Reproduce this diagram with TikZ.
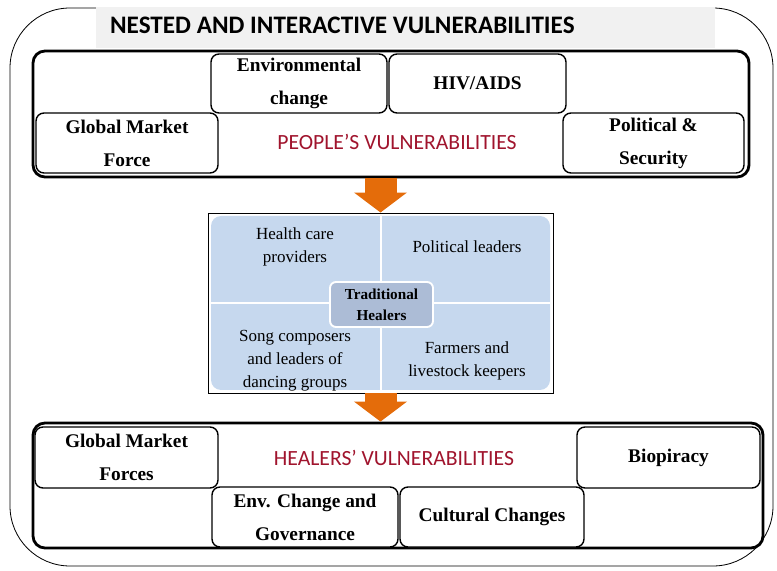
\documentclass[tikz,border=0pt]{standalone}
\usepackage{fontspec}
\setmainfont{Liberation Serif}
\newfontfamily\headfont{Carlito}
\usetikzlibrary{arrows.meta,positioning}
\definecolor{vulnred}{RGB}{160,20,45}
\definecolor{arroworange}{RGB}{228,108,10}
\definecolor{quadblue}{RGB}{198,216,238}
\definecolor{hubblue}{RGB}{172,188,214}
\definecolor{bargray}{RGB}{241,241,241}

\begin{document}
\begin{tikzpicture}[x=0.03cm,y=-0.03cm,
	bigbox/.style={draw,line width=2.4pt,rounded corners=0.36cm,inner sep=0pt},
	itembox/.style={draw,line width=1.2pt,rounded corners=0.24cm,fill=white,align=center,inner sep=0pt,font=\bfseries\fontsize{16.5}{28}\selectfont},
	quad/.style={align=center,font=\fontsize{14.5}{19.5}\selectfont},
	vulntitle/.style={text=vulnred,font=\headfont\fontsize{18.5}{21}\selectfont},
	bigarrow/.style={arroworange,line width=0.96cm,-{Triangle[length=0.6cm,width=1.56cm]}}]
		\useasboundingbox (0,0) rectangle (777,571);
		\draw[line width=0.7pt,rounded corners=1.8cm] (10,8) rectangle (773,566);
		\node[fill=bargray,minimum width=18.57cm,minimum height=1.23cm,inner sep=0pt] (titlebar) at (405.5,27.5) {};
		\node[anchor=west,font=\headfont\bfseries\fontsize{21.5}{24}\selectfont] (titletext) at (106,25) {NESTED AND INTERACTIVE VULNERABILITIES};

		\node[bigbox,minimum width=21.48cm,minimum height=3.78cm] (people) at (391,114) {};
		\node[itembox,minimum width=5.28cm,minimum height=1.77cm] (envchange) at (299,83.5) {Environmental\\change};
		\node[itembox,minimum width=5.31cm,minimum height=1.77cm] (hiv) at (477.5,83.5) {HIV/AIDS};
		\node[itembox,minimum width=5.46cm,minimum height=1.8cm] (market) at (127,143) {Global Market\\Force};
		\node[itembox,minimum width=5.43cm,minimum height=1.8cm] (security) at (653.5,143) {Political \&\\Security};
		\node[vulntitle] (peoplelabel) at (397,142) {PEOPLE’S VULNERABILITIES};

		\node[draw,line width=0.8pt,minimum width=10.35cm,minimum height=5.4cm,inner sep=0pt] (roles) at (380.5,303) {};
		\fill[quadblue,rounded corners=0.3cm] (211,216) rectangle (550,390);
		\draw[white,line width=1.6pt] (381,216) -- (381,390);
		\draw[white,line width=1.6pt] (211,303) -- (550,303);
		\node[quad] (health) at (295,247) {Health care\\providers};
		\node[quad] (leaders) at (467,247) {Political leaders};
		\node[quad] (songs) at (295,361) {Song composers\\and leaders of\\dancing groups};
		\node[quad] (farmers) at (467,361) {Farmers and\\livestock keepers};
		\node[draw=white,line width=1.6pt,fill=hubblue,rounded corners=0.18cm,minimum width=3.09cm,minimum height=1.35cm,inner sep=0pt,align=center,font=\bfseries\fontsize{13}{18}\selectfont] (hub) at (381.5,304.5) {Traditional\\Healers};

		\node[bigbox,minimum width=21.9cm,minimum height=3.75cm] (healers) at (398,485.5) {};
		\node[itembox,minimum width=5.49cm,minimum height=1.83cm] (market2) at (126.5,457.5) {Global Market\\Forces};
		\node[itembox,minimum width=5.49cm,minimum height=1.83cm] (biopiracy) at (668.5,457.5) {Biopiracy};
		\node[itembox,minimum width=5.58cm,minimum height=1.8cm] (governance) at (305,517) {Env. Change and\\Governance};
		\node[itembox,minimum width=5.52cm,minimum height=1.8cm] (culture) at (492,517) {Cultural Changes};
		\node[vulntitle] (healerslabel) at (394,458) {HEALERS’ VULNERABILITIES};

		\draw[bigarrow] (roles.north |- people.south) -- (roles.north);
		\draw[bigarrow] (roles.south) -- (roles.south |- healers.north);
\end{tikzpicture}
\end{document}
